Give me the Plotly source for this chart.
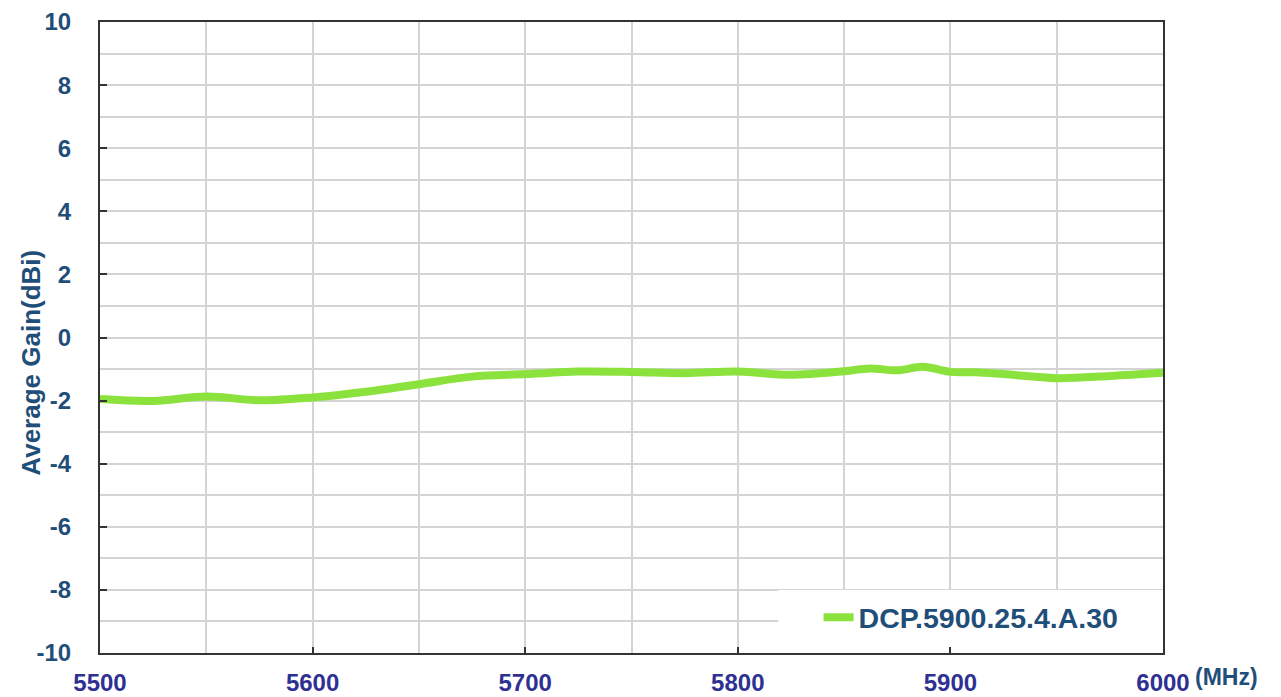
import plotly.graph_objects as go

freq_mhz = [5500, 5525, 5550, 5575, 5600, 5625, 5650, 5675, 5700, 5725, 5750, 5775,
            5800, 5825, 5850, 5862, 5875, 5887, 5900, 5912, 5925, 5950, 5975, 6000]
gain_dbi = [-1.95, -2.01, -1.87, -1.99, -1.90, -1.72, -1.48, -1.24, -1.16, -1.08, -1.09, -1.13,
            -1.08, -1.18, -1.07, -0.98, -1.04, -0.93, -1.09, -1.10, -1.16, -1.29, -1.22, -1.12]
series_name = "DCP.5900.25.4.A.30"
x_ticks = [5500, 5600, 5700, 5800, 5900, 6000]
y_ticks = [10, 8, 6, 4, 2, 0, -2, -4, -6, -8, -10]

FONT = "Liberation Sans, Arial, sans-serif"
GRID = "#D4D4D4"
AXIS = "#333333"

fig = go.Figure()
fig.add_trace(go.Scatter(
    x=freq_mhz, y=gain_dbi, mode="lines", name=series_name,
    line=dict(color="#8BE23C", width=8, shape="spline", smoothing=1.0),
))

# white legend box covering the grid
fig.add_shape(type="rect", xref="x", yref="y", x0=5819, x1=6000, y0=-10, y1=-8.0,
              fillcolor="white", line=dict(width=0), layer="between")

fig.update_layout(
    width=1281, height=697,
    margin=dict(l=92, r=126, t=14, b=52, autoexpand=False),
    plot_bgcolor="white", paper_bgcolor="white",
    font=dict(family=FONT),
    showlegend=True,
    legend=dict(x=0.676, y=0.056, xanchor="left", yanchor="middle",
                bgcolor="rgba(0,0,0,0)",
                font=dict(family=FONT, size=28.5, color="#1F4E79", weight="bold")),
    xaxis=dict(
        range=[5500, 6000], tickvals=x_ticks, ticktext=[str(v) for v in x_ticks],
        automargin=False, ticklabeloverflow="allow",
        showgrid=True, gridcolor=GRID, gridwidth=1.5,
        minor=dict(dtick=50, showgrid=True, gridcolor=GRID, gridwidth=1.5),
        showline=True, linecolor=AXIS, linewidth=2, mirror=True,
        ticks="inside", ticklen=6, tickcolor=AXIS, tickwidth=2,
        tickfont=dict(family=FONT, size=24, color="#2E3192", weight="bold"),
        ticklabelstandoff=7, zeroline=False,
    ),
    yaxis=dict(
        range=[-10, 10], tickvals=y_ticks, ticktext=[str(v) for v in y_ticks],
        automargin=False, ticklabeloverflow="allow",
        showgrid=True, gridcolor=GRID, gridwidth=1.5,
        minor=dict(dtick=1, showgrid=True, gridcolor=GRID, gridwidth=1.5),
        showline=True, linecolor=AXIS, linewidth=2, mirror=True,
        ticks="inside", ticklen=7, tickcolor=AXIS, tickwidth=2,
        tickfont=dict(family=FONT, size=24, color="#1F4E79", weight="bold"),
        ticklabelstandoff=22, zeroline=False,
    ),
    annotations=[
        dict(text="Average Gain(dBi)", xref="paper", yref="paper",
             x=-0.065, y=0.46, xanchor="center", yanchor="middle",
             textangle=-90, showarrow=False,
             font=dict(family=FONT, size=26, color="#1F4E79", weight="bold")),
        dict(text="(MHz)", xref="paper", yref="paper",
             x=1.0593, y=-0.038, xanchor="center", yanchor="middle",
             showarrow=False,
             font=dict(family=FONT, size=23, color="#1F4E79", weight="bold")),
    ],
)

fig.write_html("out.html")
